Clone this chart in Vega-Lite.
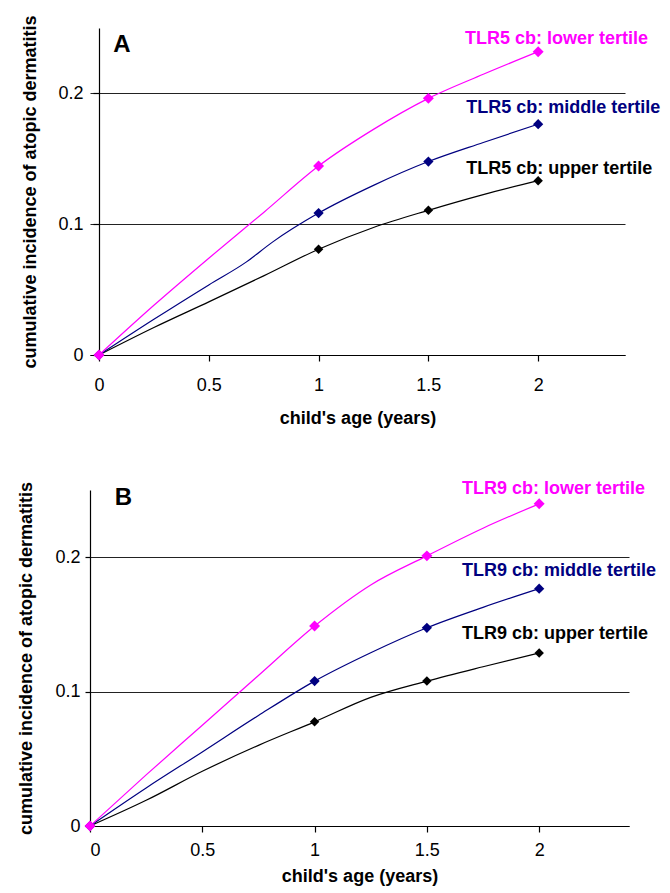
{
  "$schema": "https://vega.github.io/schema/vega-lite/v6.json",
  "padding": {"left": 17, "top": 14, "right": 5, "bottom": 5},
  "config": {
    "view": {"stroke": null},
    "font": "Liberation Sans",
    "axis": {
      "domainColor": "#000000", "domainWidth": 1.2, "tickColor": "#000000", "tickWidth": 1.2,
      "labelColor": "#000000", "labelFont": "Liberation Sans", "labelFontSize": 18, "labelFontWeight": "normal",
      "titleColor": "#000000", "titleFont": "Liberation Sans", "titleFontSize": 18, "titleFontWeight": "bold",
      "gridColor": "#222222", "gridWidth": 1.2, "gridOpacity": 1
    }
  },
  "datasets": {
    "curveA": [
      {"tertile": "upper", "age": 0, "inc": 0},
      {"tertile": "upper", "age": 0.25, "inc": 0.021},
      {"tertile": "upper", "age": 0.5, "inc": 0.0406},
      {"tertile": "upper", "age": 0.75, "inc": 0.0605},
      {"tertile": "upper", "age": 1, "inc": 0.0809},
      {"tertile": "upper", "age": 1.25, "inc": 0.0975},
      {"tertile": "upper", "age": 1.5, "inc": 0.1106},
      {"tertile": "upper", "age": 1.75, "inc": 0.1226},
      {"tertile": "upper", "age": 2, "inc": 0.1333},
      {"tertile": "middle", "age": 0, "inc": 0},
      {"tertile": "middle", "age": 0.25, "inc": 0.0273},
      {"tertile": "middle", "age": 0.5, "inc": 0.0536},
      {"tertile": "middle", "age": 0.67, "inc": 0.071},
      {"tertile": "middle", "age": 0.79, "inc": 0.0863},
      {"tertile": "middle", "age": 1, "inc": 0.1085},
      {"tertile": "middle", "age": 1.25, "inc": 0.1297},
      {"tertile": "middle", "age": 1.5, "inc": 0.1479},
      {"tertile": "middle", "age": 1.75, "inc": 0.1625},
      {"tertile": "middle", "age": 2, "inc": 0.1765},
      {"tertile": "lower", "age": 0, "inc": 0},
      {"tertile": "lower", "age": 0.25, "inc": 0.038},
      {"tertile": "lower", "age": 0.5, "inc": 0.074},
      {"tertile": "lower", "age": 0.75, "inc": 0.109},
      {"tertile": "lower", "age": 1, "inc": 0.1445},
      {"tertile": "lower", "age": 1.25, "inc": 0.1725},
      {"tertile": "lower", "age": 1.5, "inc": 0.1962},
      {"tertile": "lower", "age": 1.75, "inc": 0.2146},
      {"tertile": "lower", "age": 2, "inc": 0.2319}
    ],
    "curveB": [
      {"tertile": "upper", "age": 0, "inc": 0},
      {"tertile": "upper", "age": 0.25, "inc": 0.0191},
      {"tertile": "upper", "age": 0.5, "inc": 0.0407},
      {"tertile": "upper", "age": 0.75, "inc": 0.06},
      {"tertile": "upper", "age": 1, "inc": 0.0775},
      {"tertile": "upper", "age": 1.25, "inc": 0.0957},
      {"tertile": "upper", "age": 1.5, "inc": 0.1078},
      {"tertile": "upper", "age": 1.75, "inc": 0.1185},
      {"tertile": "upper", "age": 2, "inc": 0.1287},
      {"tertile": "middle", "age": 0, "inc": 0},
      {"tertile": "middle", "age": 0.25, "inc": 0.0283},
      {"tertile": "middle", "age": 0.5, "inc": 0.0551},
      {"tertile": "middle", "age": 0.75, "inc": 0.0822},
      {"tertile": "middle", "age": 1, "inc": 0.1078},
      {"tertile": "middle", "age": 1.25, "inc": 0.1289},
      {"tertile": "middle", "age": 1.5, "inc": 0.1475},
      {"tertile": "middle", "age": 1.75, "inc": 0.1627},
      {"tertile": "middle", "age": 2, "inc": 0.1766},
      {"tertile": "lower", "age": 0, "inc": 0},
      {"tertile": "lower", "age": 0.25, "inc": 0.038},
      {"tertile": "lower", "age": 0.5, "inc": 0.075},
      {"tertile": "lower", "age": 0.75, "inc": 0.112},
      {"tertile": "lower", "age": 1, "inc": 0.1488},
      {"tertile": "lower", "age": 1.25, "inc": 0.1794},
      {"tertile": "lower", "age": 1.5, "inc": 0.201},
      {"tertile": "lower", "age": 1.75, "inc": 0.2216},
      {"tertile": "lower", "age": 2, "inc": 0.2397}
    ],
    "labelsA": [
      {"tertile": "lower", "label": "TLR5 cb: lower tertile", "age": 1.667, "inc": 0.2378},
      {"tertile": "middle", "label": "TLR5 cb: middle tertile", "age": 1.672, "inc": 0.1847},
      {"tertile": "upper", "label": "TLR5 cb: upper tertile", "age": 1.672, "inc": 0.1382}
    ],
    "labelsB": [
      {"tertile": "lower", "label": "TLR9 cb: lower tertile", "age": 1.656, "inc": 0.247},
      {"tertile": "middle", "label": "TLR9 cb: middle tertile", "age": 1.656, "inc": 0.186},
      {"tertile": "upper", "label": "TLR9 cb: upper tertile", "age": 1.656, "inc": 0.1389}
    ],
    "letterA": [{"letter": "A", "age": 0.065, "inc": 0.2316}],
    "letterB": [{"letter": "B", "age": 0.11, "inc": 0.239}]
  },
  "vconcat": [
    {
      "width": 535,
      "height": 327,
      "encoding": {
        "x": {"field": "age", "type": "quantitative", "scale": {"domain": [-0.041, 2.3955], "nice": false, "zero": false},
              "axis": {"values": [0, 0.5, 1, 1.5, 2], "format": "~g", "title": "child's age (years)", "grid": false,
                       "tickSize": 6, "labelPadding": 15, "titlePadding": 15}},
        "y": {"field": "inc", "type": "quantitative", "scale": {"domain": [0, 0.25], "nice": false},
              "axis": {"values": [0, 0.1, 0.2], "format": "~g", "title": "cumulative incidence of atopic dermatitis", "grid": true,
                       "offset": -9, "tickSize": 6, "labelPadding": 10, "titlePadding": 18}}
      },
      "layer": [
        {
          "data": {"name": "curveA"},
          "mark": {"type": "line", "interpolate": "monotone", "strokeWidth": 1.2},
          "encoding": {
            "color": {"field": "tertile", "type": "nominal", "legend": null,
                      "scale": {"domain": ["lower", "middle", "upper"], "range": ["#ff00ff", "#000080", "#000000"]}}
          }
        },
        {
          "data": {"name": "curveA"},
          "transform": [{"filter": "indexof([0, 1, 1.5, 2], datum.age) >= 0"}],
          "mark": {"type": "point", "shape": "diamond", "filled": true, "opacity": 1},
          "encoding": {
            "color": {"field": "tertile", "type": "nominal", "legend": null,
                      "scale": {"domain": ["lower", "middle", "upper"], "range": ["#ff00ff", "#000080", "#000000"]}},
            "size": {"field": "tertile", "type": "nominal", "legend": null,
                     "scale": {"domain": ["lower", "middle", "upper"], "range": [120, 90, 90]}}
          }
        },
        {
          "data": {"name": "labelsA"},
          "mark": {"type": "text", "align": "left", "baseline": "alphabetic", "fontSize": 18, "fontWeight": "bold"},
          "encoding": {
            "text": {"field": "label"},
            "color": {"field": "tertile", "type": "nominal", "legend": null,
                      "scale": {"domain": ["lower", "middle", "upper"], "range": ["#ff00ff", "#000080", "#000000"]}}
          }
        },
        {
          "data": {"name": "letterA"},
          "mark": {"type": "text", "align": "left", "baseline": "alphabetic", "fontSize": 24, "fontWeight": "bold", "color": "#000000"},
          "encoding": {"text": {"field": "letter"}}
        }
      ]
    },
    {
      "width": 539,
      "height": 336,
      "encoding": {
        "x": {"field": "age", "type": "quantitative", "scale": {"domain": [0, 2.4], "nice": false},
              "axis": {"values": [0, 0.5, 1, 1.5, 2], "format": "~g", "title": "child's age (years)", "grid": false,
                       "tickSize": 6, "labelPadding": 9, "titlePadding": 8}},
        "y": {"field": "inc", "type": "quantitative", "scale": {"domain": [0, 0.25], "nice": false},
              "axis": {"values": [0, 0.1, 0.2], "format": "~g", "title": "cumulative incidence of atopic dermatitis", "grid": true,
                       "tickSize": 5, "labelPadding": 5, "titlePadding": 19}}
      },
      "layer": [
        {
          "data": {"name": "curveB"},
          "mark": {"type": "line", "interpolate": "monotone", "strokeWidth": 1.2},
          "encoding": {
            "color": {"field": "tertile", "type": "nominal", "legend": null,
                      "scale": {"domain": ["lower", "middle", "upper"], "range": ["#ff00ff", "#000080", "#000000"]}}
          }
        },
        {
          "data": {"name": "curveB"},
          "transform": [{"filter": "indexof([0, 1, 1.5, 2], datum.age) >= 0"}],
          "mark": {"type": "point", "shape": "diamond", "filled": true, "opacity": 1},
          "encoding": {
            "color": {"field": "tertile", "type": "nominal", "legend": null,
                      "scale": {"domain": ["lower", "middle", "upper"], "range": ["#ff00ff", "#000080", "#000000"]}},
            "size": {"field": "tertile", "type": "nominal", "legend": null,
                     "scale": {"domain": ["lower", "middle", "upper"], "range": [120, 90, 90]}}
          }
        },
        {
          "data": {"name": "labelsB"},
          "mark": {"type": "text", "align": "left", "baseline": "alphabetic", "fontSize": 18, "fontWeight": "bold"},
          "encoding": {
            "text": {"field": "label"},
            "color": {"field": "tertile", "type": "nominal", "legend": null,
                      "scale": {"domain": ["lower", "middle", "upper"], "range": ["#ff00ff", "#000080", "#000000"]}}
          }
        },
        {
          "data": {"name": "letterB"},
          "mark": {"type": "text", "align": "left", "baseline": "alphabetic", "fontSize": 24, "fontWeight": "bold", "color": "#000000"},
          "encoding": {"text": {"field": "letter"}}
        }
      ]
    }
  ],
  "spacing": 53
}
